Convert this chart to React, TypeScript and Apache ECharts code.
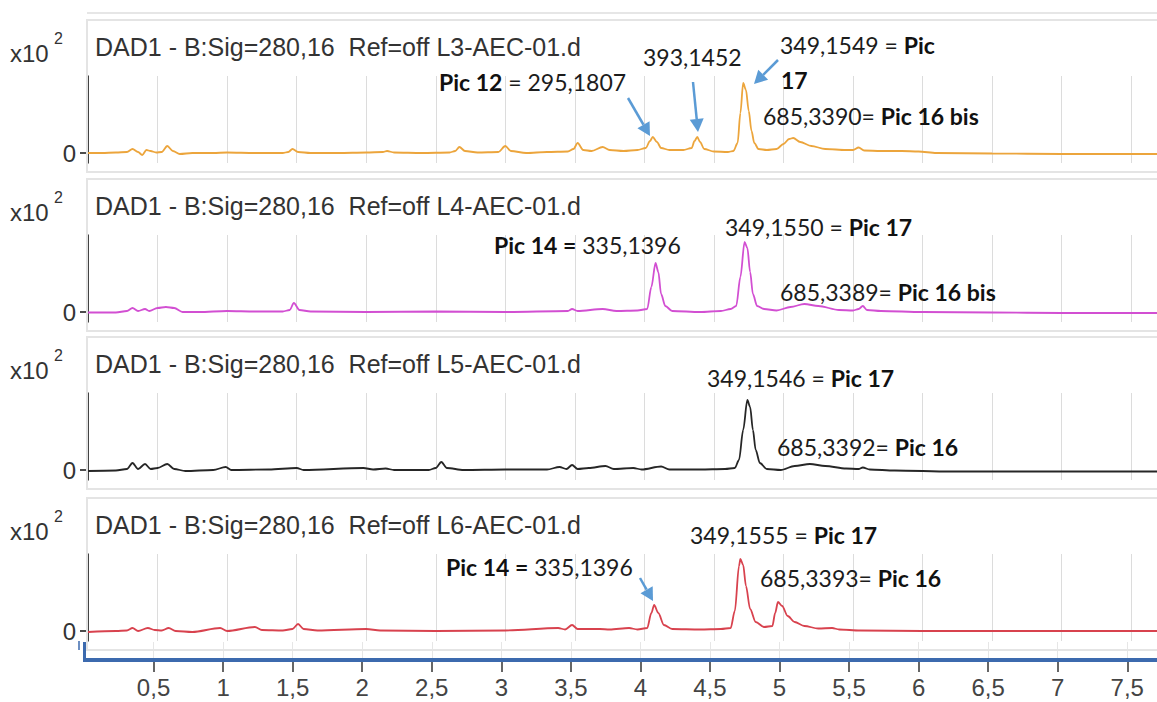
import React, { useEffect, useRef } from 'react';
import * as echarts from 'echarts';

// ---------- data ----------
const timeTicks = [0.5, 1, 1.5, 2, 2.5, 3, 3.5, 4, 4.5, 5, 5.5, 6, 6.5, 7, 7.5];
const signalLabel = 'DAD1 - B:Sig=280,16  Ref=off ';
const sampleNames = ['L3-AEC-01.d', 'L4-AEC-01.d', 'L5-AEC-01.d', 'L6-AEC-01.d'];
const traceColors = ['#eca53c', '#d24fd2', '#262626', '#d8424e'];

// retention time (min), absorbance (x10^2)
const traceL3 = [
  [0.0, 0.0], [0.1, 0.0], [0.2, 0.05], [0.28, 0.1], [0.32, 0.4], [0.36, 0.1], [0.39, -0.2], [0.42, 0.3], [0.45, 0.2],
  [0.49, 0.05], [0.53, 0.1], [0.57, 0.7], [0.61, 0.2], [0.66, -0.1], [0.75, 0.0], [0.9, 0.0], [1.0, 0.05], [1.2, 0.0],
  [1.4, 0.0], [1.44, 0.1], [1.47, 0.4], [1.51, 0.1], [1.6, 0.0], [1.8, 0.0], [2.0, 0.05], [2.12, 0.1], [2.15, 0.2],
  [2.2, 0.05], [2.4, 0.0], [2.6, 0.05], [2.64, 0.2], [2.67, 0.6], [2.71, 0.2], [2.8, 0.05], [2.95, 0.1], [3.0, 0.7],
  [3.04, 0.2], [3.15, 0.0], [3.3, 0.1], [3.45, 0.15], [3.49, 0.4], [3.52, 1.0], [3.56, 0.3], [3.62, 0.2], [3.7, 0.6],
  [3.75, 0.3], [3.85, 0.2], [3.95, 0.3], [4.01, 0.5], [4.04, 1.2], [4.06, 1.6], [4.09, 1.1], [4.12, 0.5], [4.18, 0.3],
  [4.28, 0.3], [4.34, 0.5], [4.36, 1.2], [4.38, 1.6], [4.4, 1.1], [4.43, 0.4], [4.5, 0.15], [4.6, 0.1], [4.64, 0.2],
  [4.67, 1.0], [4.69, 4.0], [4.71, 7.0], [4.73, 6.3], [4.75, 4.2], [4.77, 2.2], [4.79, 1.0], [4.82, 0.4], [4.88, 0.3],
  [4.95, 0.4], [5.0, 0.9], [5.04, 1.4], [5.07, 1.5], [5.12, 1.1], [5.2, 0.7], [5.3, 0.4], [5.45, 0.3], [5.5, 0.3],
  [5.54, 0.55], [5.58, 0.25], [5.7, 0.2], [5.85, 0.2], [5.97, 0.15], [6.1, 0.0], [6.5, -0.05], [7.0, -0.1], [7.5, -0.1],
  [7.69, -0.1],
];
const traceL4 = [
  [0.0, -0.05], [0.2, -0.05], [0.28, 0.1], [0.32, 0.4], [0.36, 0.1], [0.41, 0.3], [0.44, 0.1], [0.5, 0.4], [0.56, 0.5],
  [0.62, 0.4], [0.68, 0.0], [0.8, 0.0], [1.0, 0.1], [1.2, 0.05], [1.4, 0.05], [1.45, 0.2], [1.48, 0.9], [1.52, 0.2],
  [1.6, 0.05], [2.0, 0.0], [2.5, 0.05], [3.0, 0.0], [3.45, 0.1], [3.48, 0.3], [3.52, 0.1], [3.7, 0.3], [3.8, 0.1],
  [3.95, 0.15], [4.02, 0.3], [4.05, 2.5], [4.08, 4.9], [4.1, 4.0], [4.12, 1.8], [4.15, 0.6], [4.2, 0.1], [4.4, 0.0],
  [4.55, 0.1], [4.62, 0.3], [4.66, 0.6], [4.69, 3.5], [4.72, 7.0], [4.74, 6.4], [4.76, 4.0], [4.78, 1.8], [4.81, 0.6],
  [4.86, 0.3], [4.95, 0.15], [5.05, 0.5], [5.15, 0.8], [5.25, 0.6], [5.4, 0.2], [5.5, 0.15], [5.54, 0.3], [5.57, 0.6],
  [5.6, 0.2], [5.7, 0.1], [6.0, 0.0], [6.5, -0.05], [7.0, -0.1], [7.69, -0.1],
];
const traceL5 = [
  [0.0, -0.1], [0.2, -0.05], [0.28, 0.1], [0.32, 0.7], [0.36, 0.1], [0.41, 0.6], [0.45, 0.1], [0.5, 0.2], [0.57, 0.6],
  [0.62, 0.1], [0.7, -0.1], [0.9, 0.0], [0.99, 0.3], [1.03, 0.0], [1.3, 0.05], [1.5, 0.2], [1.55, 0.0], [1.98, 0.2],
  [2.05, 0.05], [2.14, 0.15], [2.2, 0.0], [2.45, 0.0], [2.5, 0.2], [2.54, 0.8], [2.58, 0.2], [2.7, 0.0], [3.0, 0.05],
  [3.3, 0.05], [3.39, 0.3], [3.44, 0.1], [3.48, 0.5], [3.52, 0.1], [3.6, 0.2], [3.72, 0.4], [3.78, 0.1], [3.92, 0.2],
  [3.98, 0.05], [4.12, 0.35], [4.18, 0.05], [4.4, 0.05], [4.58, 0.1], [4.65, 0.2], [4.68, 1.0], [4.71, 4.0], [4.74, 7.0],
  [4.76, 6.3], [4.78, 4.0], [4.8, 2.0], [4.83, 0.7], [4.88, 0.1], [4.98, 0.0], [5.08, 0.4], [5.19, 0.6], [5.3, 0.4],
  [5.45, 0.15], [5.54, 0.1], [5.57, 0.25], [5.62, 0.05], [5.8, -0.05], [6.2, -0.15], [7.0, -0.15], [7.69, -0.15],
];
const traceL6 = [
  [0.0, -0.1], [0.2, 0.0], [0.28, 0.05], [0.32, 0.3], [0.36, 0.0], [0.43, 0.3], [0.48, 0.1], [0.53, 0.05], [0.58, 0.3],
  [0.63, 0.0], [0.75, -0.1], [0.95, 0.3], [1.0, 0.0], [1.2, 0.4], [1.25, 0.1], [1.4, 0.05], [1.47, 0.2], [1.51, 0.7],
  [1.55, 0.2], [1.65, 0.05], [2.0, 0.2], [2.1, 0.05], [2.5, 0.0], [3.0, 0.05], [3.38, 0.3], [3.43, 0.15], [3.48, 0.6],
  [3.52, 0.2], [3.68, 0.2], [3.75, 0.15], [3.89, 0.3], [3.95, 0.15], [4.02, 0.3], [4.05, 1.8], [4.07, 2.6], [4.1, 1.8],
  [4.14, 0.6], [4.2, 0.2], [4.4, 0.15], [4.55, 0.2], [4.62, 0.3], [4.65, 2.0], [4.68, 6.5], [4.69, 7.2], [4.71, 6.6],
  [4.73, 4.5], [4.76, 2.2], [4.8, 0.9], [4.86, 0.4], [4.92, 0.5], [4.94, 1.8], [4.96, 2.9], [4.99, 2.5], [5.03, 1.5],
  [5.08, 0.9], [5.15, 0.5], [5.25, 0.25], [5.35, 0.3], [5.4, 0.15], [5.55, 0.05], [6.0, 0.0], [7.0, 0.0], [7.69, 0.0],
];
const traces = [traceL3, traceL4, traceL5, traceL6];

// annotations: [text (rich), panel]
const annotationTexts = [
  ['{b|Pic 12} = 295,1807', '393,1452', '349,1549 = {b|Pic}', '{b|17}', '685,3390= {b|Pic 16 bis}'],
  ['{b|Pic 14 =} 335,1396', '349,1550 = {b|Pic 17}', '685,3389= {b|Pic 16 bis}'],
  ['349,1546 = {b|Pic 17}', '685,3392= {b|Pic 16}'],
  ['{b|Pic 14 =} 335,1396', '349,1555 = {b|Pic 17}', '685,3393= {b|Pic 16}'],
];

// ---------- layout ----------
const ZERO = [153, 312, 470, 631];
const X_LEFT = 88;
const X_MAX = 7.685;
const Y_MIN = -1;
const Y_MAX = 7.7;
const annotationPos = [
  [[439, 82], [643, 57], [780, 45], [781, 80], [763, 116]],
  [[494, 245], [725, 227], [780, 292]],
  [[707, 378], [777, 447]],
  [[446, 567], [690, 535], [760, 578]],
];
const arrows = [
  [628, 98, 650, 136],
  [693, 82, 698, 132],
  [778, 60, 754, 84],
  [640, 578, 653, 601],
];

const ANN_FONT = 'Lato';
const ANN_SIZE = 23;
const SANS = 'Liberation Sans';

function arrowElements(a: number[]) {
  const [x1, y1, x2, y2] = a;
  const dx = x2 - x1, dy = y2 - y1;
  const len = Math.sqrt(dx * dx + dy * dy);
  const ux = dx / len, uy = dy / len;
  const hl = 13, hw = 7;
  const bx = x2 - ux * hl, by = y2 - uy * hl;
  const color = '#5b9bd5';
  return [
    { type: 'line', shape: { x1, y1, x2: bx, y2: by }, style: { stroke: color, lineWidth: 2.5 }, z: 20 },
    {
      type: 'polygon',
      shape: { points: [[x2, y2], [bx - uy * hw, by + ux * hw], [bx + uy * hw, by - ux * hw]] },
      style: { fill: color },
      z: 20,
    },
  ];
}

export default function App() {
  const ref = useRef<HTMLDivElement>(null);
  useEffect(() => {
    if (!ref.current) return;
    const chart = echarts.init(ref.current, undefined, { renderer: 'svg' });

    const grids: any[] = [];
    const xAxes: any[] = [];
    const yAxes: any[] = [];
    const series: any[] = [];
    const graphics: any[] = [];

    // top partial border line (previous panel)
    graphics.push({ type: 'rect', shape: { x: 87, y: 12, width: 1072, height: 2 }, style: { fill: '#e6e6e6' }, z: 0 });

    traces.forEach((tr, i) => {
      const z0 = ZERO[i];
      grids.push({ left: X_LEFT, right: 0, top: z0 - 77, height: 87 });
      xAxes.push({
        type: 'value', gridIndex: i, min: 0, max: X_MAX, interval: 0.5,
        axisLine: { show: false }, axisTick: { show: false }, axisLabel: { show: false },
        splitLine: { show: true, lineStyle: { color: '#dcdcdc', width: 1 } },
      });
      yAxes.push({
        type: 'value', gridIndex: i, min: Y_MIN, max: Y_MAX,
        axisLine: { show: true, onZero: false, lineStyle: { color: '#111', width: 1.5 } },
        axisTick: { show: true, customValues: [0], length: 8, lineStyle: { color: '#111', width: 1.5 } },
        axisLabel: { show: true, customValues: [0], fontSize: 24, fontFamily: SANS, color: '#333', margin: 12 },
        splitLine: { show: false },
      });
      series.push({
        type: 'line', xAxisIndex: i, yAxisIndex: i, data: tr, showSymbol: false,
        smooth: 0.3, smoothMonotone: 'x',
        lineStyle: { color: traceColors[i], width: 1.8 },
        z: 5,
      });
      // panel box
      graphics.push({
        type: 'rect', shape: { x: 87, y: z0 - 133, width: 1072, height: 152 },
        style: { fill: 'none', stroke: '#e4e4e4', lineWidth: 2 }, z: 1,
      });
      // y unit label
      graphics.push({
        type: 'text', x: 10, y: z0 - 100,
        style: { text: 'x10', font: `24px '${SANS}'`, fill: '#333', verticalAlign: 'middle', align: 'left' }, z: 10,
      });
      graphics.push({
        type: 'text', x: 54, y: z0 - 115,
        style: { text: '2', font: `16px '${SANS}'`, fill: '#333', verticalAlign: 'middle', align: 'left' }, z: 10,
      });
      // title
      graphics.push({
        type: 'text', x: 95, y: z0 - 106,
        style: { text: signalLabel + sampleNames[i], font: `25px '${SANS}'`, fill: '#333', verticalAlign: 'middle', align: 'left' },
        z: 10,
      });
      // annotations
      annotationTexts[i].forEach((t, k) => {
        const [ax, ay] = annotationPos[i][k];
        graphics.push({
          type: 'text', x: ax, y: ay, z: 15,
          style: {
            text: t, fontFamily: ANN_FONT, fontSize: ANN_SIZE, fill: '#1c1c1c',
            verticalAlign: 'middle', align: 'left',
            rich: { b: { fontFamily: ANN_FONT, fontSize: ANN_SIZE, fontWeight: 'bold', fill: '#111' } },
          },
        });
      });
    });

    // bottom time axis
    grids.push({ left: 84, right: 4, top: 642, height: 20 });
    xAxes.push({
      type: 'value', gridIndex: 4, min: 0, max: X_MAX, interval: 0.5, position: 'bottom',
      axisLine: { show: false },
      axisTick: { show: true, customValues: timeTicks, length: 10, lineStyle: { color: '#333', width: 1.5 } },
      axisLabel: {
        show: true, customValues: timeTicks, fontSize: 24, fontFamily: SANS, color: '#444', margin: 13,
        formatter: (v: number) => String(v).replace('.', ','),
      },
      splitLine: { show: true, lineStyle: { color: '#e6e6e6' } },
    });
    yAxes.push({ type: 'value', gridIndex: 4, show: false, min: 0, max: 1 });

    // blue scroll bar
    graphics.push({ type: 'rect', shape: { x: 83, y: 658, width: 1074, height: 4 }, style: { fill: '#3c6aae' }, z: 12 });
    graphics.push({ type: 'rect', shape: { x: 83, y: 642, width: 3, height: 20 }, style: { fill: '#3c6aae' }, z: 12 });
    graphics.push({ type: 'rect', shape: { x: 78, y: 641, width: 2, height: 9 }, style: { fill: '#6d8fc2' }, z: 12 });

    arrows.forEach((a) => graphics.push(...arrowElements(a)));

    chart.setOption({
      animation: false,
      backgroundColor: '#ffffff',
      grid: grids,
      xAxis: xAxes,
      yAxis: yAxes,
      series,
      graphic: graphics,
    });
    return () => chart.dispose();
  }, []);
  return <div ref={ref} style={{ position: 'fixed', left: 0, top: 0, width: 1157, height: 702 }} />;
}
